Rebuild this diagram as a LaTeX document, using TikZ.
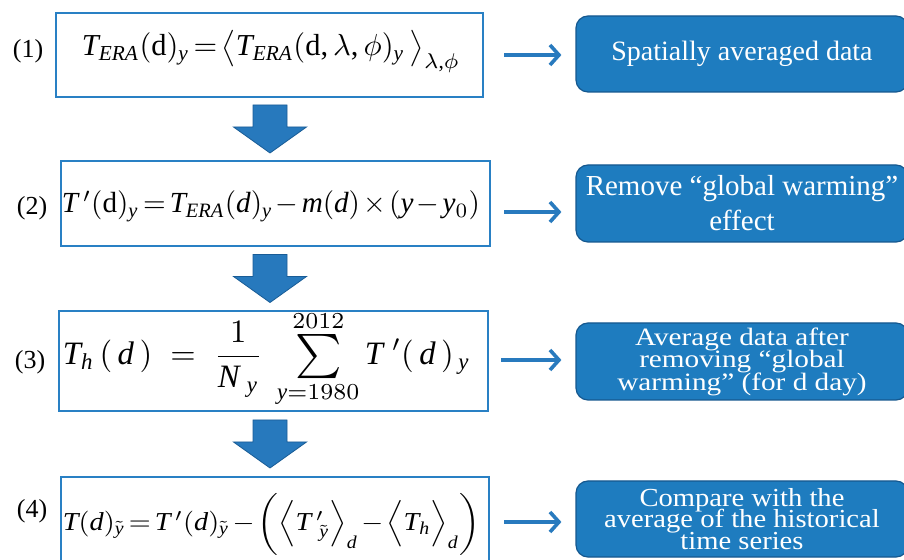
\documentclass[tikz,border=0pt]{standalone}
\usepackage{fontspec}
\setmainfont{Liberation Serif}
\newfontfamily\rthreefont[FakeStretch=1.17]{Liberation Serif}
\newfontfamily\rfourfont[FakeStretch=1.1]{Liberation Serif}
\usepackage{graphicx}
\usetikzlibrary{arrows.meta,calc}
% Times-like letters and digits in math
\DeclareSymbolFont{tmsit}{TU}{\rmdefault}{m}{it}
\DeclareSymbolFont{tmsup}{TU}{\rmdefault}{m}{n}
\newcommand\setmit[1]{\DeclareMathSymbol{#1}{\mathalpha}{tmsit}{`#1}}
\newcommand\setmup[1]{\DeclareMathSymbol{#1}{\mathalpha}{tmsup}{`#1}}
\setmit T\setmit E\setmit R\setmit A\setmit d\setmit y\setmit m\setmit N\setmit h
\setmup 0\setmup 1\setmup 2\setmup 8\setmup 9
\DeclareMathSymbol{=}{\mathrel}{tmsup}{`=}
\DeclareMathSymbol{(}{\mathopen}{tmsup}{`(}
\DeclareMathSymbol{)}{\mathclose}{tmsup}{`)}
\DeclareMathSymbol{,}{\mathpunct}{tmsup}{`,}
\DeclareSymbolFontAlphabet{\mathrm}{tmsup}
\newcommand{\tightmath}{\thickmuskip=2.5mu\medmuskip=2mu}
\newcommand{\bigsum}{\mathop{\vcenter{\hbox{\scalebox{1.35}{$\textstyle\sum$}}}}\limits}
\definecolor{eqblue}{RGB}{41,128,196}
\definecolor{boxfill}{RGB}{30,124,191}
\definecolor{boxline}{RGB}{21,88,143}
\definecolor{arrblue}{RGB}{40,122,190}
\definecolor{bigarr}{RGB}{39,121,189}
\definecolor{bigarrline}{RGB}{25,92,150}
\newcommand{\tightlines}{\setlength{\lineskiplimit}{-30pt}}
\begin{document}
\begin{tikzpicture}[x=1pt,y=1pt,
  eqbox/.style={draw=eqblue,line width=2.8pt,fill=white,inner sep=0pt},
  resbox/.style={fill=boxfill,draw=boxline,line width=1.2pt,rounded corners=12pt,
    text=white,align=center,inner sep=0pt,minimum width=332pt},
  stepnum/.style={anchor=base,inner sep=0pt,font=\fontsize{26}{30}\selectfont},
  eqn/.style={anchor=base,inner sep=0pt},
  eqc/.style={anchor=center,inner sep=0pt},
  flowarr/.style={draw=arrblue,line width=3.6pt,-{Straight Barb[length=9pt,width=20pt]}},
  bigarrow/.style={fill=bigarr,draw=bigarrline,line width=0.8pt},
  downarr/.pic={\path[bigarrow] (-17,24) -- (17,24) -- (17,2) -- (36.5,2) -- (0,-24)
      -- (-36.5,2) -- (-17,2) -- cycle;}
]
\useasboundingbox (0,0) rectangle (904,559);
\clip (0,0) rectangle (904,559);

% left formula boxes
\node[eqbox,minimum width=427pt,minimum height=84pt] (l1) at (269.5,504) {};
\node[eqbox,minimum width=429pt,minimum height=85pt] (l2) at (275.5,355.5) {};
\node[eqbox,minimum width=429pt,minimum height=100pt] (l3) at (273.5,198) {};
\node[eqbox,minimum width=428pt,minimum height=90pt] (l4) at (275,37) {};

% step numbers
\node[stepnum] (n1) at (28,501) {(1)};
\node[stepnum] (n2) at (32,344) {(2)};
\node[stepnum] (n3) at (30,190) {(3)};
\node[stepnum] (n4) at (32,41) {(4)};

% formulas
\node[eqn] (e1) at (271,503) {\resizebox{378pt}{!}{$\tightmath T_{ERA}(\mathrm{d})_{y}=\bigl\langle T_{ERA}(\mathrm{d},\lambda,\phi)_{y}\,\bigr\rangle_{\lambda,\phi}$}};
\node[eqn] (e2) at (271,346) {\resizebox{418pt}{!}{$\tightmath T\,'(\mathrm{d})_{y}=T_{ERA}(d)_{y}-m(d)\times(y-y_{0})$}};
\node[eqn] (e3) at (266.5,194) {\resizebox{407pt}{!}{$\displaystyle T_{h}\,(\,d\,)\;=\;\frac{1}{N_{\;y}}\;\bigsum_{y=1980}^{2012}T\;'(\,d\,)_{\,y}$}};
\node[eqc] (e4) at (271.5,35) {\resizebox*{417pt}{62pt}{$\tightmath T(d)_{\tilde{y}}=T\,'(d)_{\tilde{y}}-\biggl(\Bigl\langle T\,'_{\;\tilde{y}}\Bigr\rangle_{d}-\Bigl\langle T_{h}\Bigr\rangle_{d}\biggr)$}};

% right result boxes
\node[resbox,minimum height=76pt,font={\fontsize{28}{34}\selectfont}] (r1) at (742,505) {Spatially averaged data};
\node[resbox,minimum height=77pt,font={\fontsize{29}{35}\selectfont}] (r2) at (742,355.5) {Remove “global warming”\\effect};
\node[resbox,minimum height=77pt,font={\rthreefont\fontsize{25}{22.5}\selectfont\tightlines}] (r3) at (742,197.5) {Average data after\\removing “global\\warming” (for d day)};
\node[resbox,minimum height=76pt,font={\rfourfont\fontsize{26}{21.5}\selectfont\tightlines}] (r4) at (742,40) {Compare with the\\average of the historical\\time series};

% horizontal arrows
\draw[flowarr] ([xshift=20pt]l1.east) -- ([shift={(-14pt,-1pt)}]r1.west);
\draw[flowarr] ([shift={(13pt,-8.5pt)}]l2.east) -- ([shift={(-14pt,-8.5pt)}]r2.west);
\draw[flowarr] ([shift={(12pt,1pt)}]l3.east) -- ([shift={(-14pt,1.5pt)}]r3.west);
\draw[flowarr] ([xshift=14pt]l4.east) -- ([shift={(-14pt,-3pt)}]r4.west);

% block arrows between formula boxes
\path let \p1=($(l1.south)!0.5!(l2.north)$) in pic at (270,\y1) {downarr};
\path let \p1=($(l2.south)!0.5!(l3.north)$) in pic at (270,\y1) {downarr};
\path let \p1=($(l3.south)!0.5!(l4.north)$) in pic at (270,\y1) {downarr};
\end{tikzpicture}
\end{document}
